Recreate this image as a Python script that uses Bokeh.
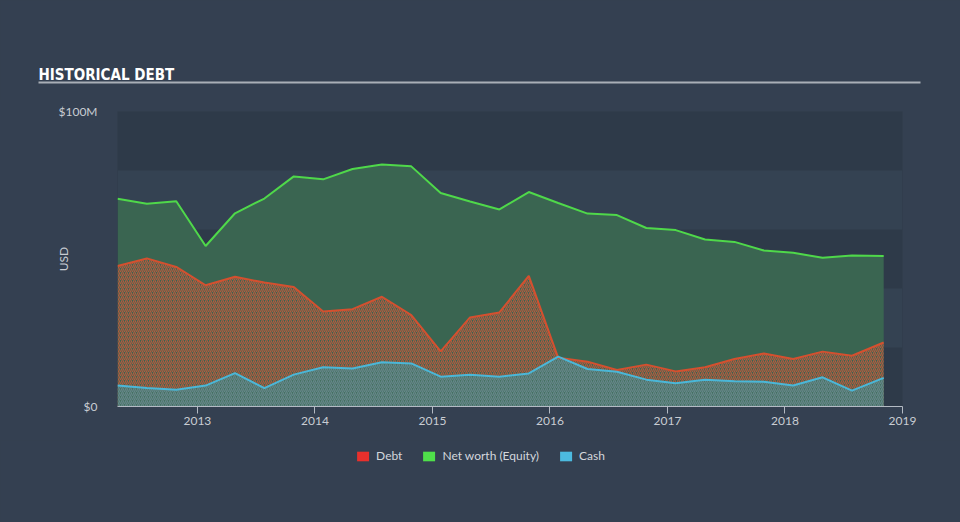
from bokeh.plotting import figure
from bokeh.layouts import column
from bokeh.models import (FixedTicker, PrintfTickFormatter, Legend, LegendItem, Range1d)
from bokeh.core.properties import value
from bokeh.embed import file_html
from bokeh.resources import INLINE

# ---- data (USD millions), quarterly, decimal years ----
dates = [2012.32, 2012.57, 2012.82, 2013.07, 2013.32, 2013.57, 2013.82,
         2014.07, 2014.32, 2014.57, 2014.82, 2015.07, 2015.32, 2015.57,
         2015.82, 2016.07, 2016.32, 2016.57, 2016.82, 2017.07, 2017.32,
         2017.57, 2017.82, 2018.07, 2018.32, 2018.57, 2018.84]
equity = [70.4, 68.7, 69.6, 54.4, 65.5, 70.5, 78.0, 77.0, 80.5, 82.0, 81.4,
          72.4, 69.5, 66.8, 72.7, 69.0, 65.4, 64.9, 60.5, 59.8, 56.6, 55.8,
          52.9, 52.1, 50.4, 51.2, 51.0]
debt = [47.6, 50.2, 47.3, 41.1, 44.0, 42.0, 40.5, 32.2, 33.0, 37.2, 31.0,
        18.7, 30.2, 31.9, 44.3, 16.5, 15.2, 12.4, 14.2, 11.9, 13.3, 16.1,
        18.0, 16.1, 18.6, 17.2, 21.7]
cash = [7.1, 6.3, 5.7, 7.1, 11.3, 6.2, 10.8, 13.3, 12.9, 15.0, 14.6, 10.1,
        10.8, 10.1, 11.2, 16.9, 12.7, 11.8, 9.1, 7.9, 9.1, 8.6, 8.4, 7.1,
        9.9, 5.4, 9.7]
x_ticks = [2013, 2014, 2015, 2016, 2017, 2018, 2019]
y_ticks = [0, 100]
y_tick_labels = {0: "$0", 100: "$100M"}
band_ticks = [0, 20, 40, 60, 80, 100]
series_names = ["Debt", "Net worth (Equity)", "Cash"]
title_text = "HISTORICAL DEBT"

PAGE = "#344051"
DARK_BAND = "#2e3a49"
LIGHT_BAND = "#344252"
TXT = "#c9cdd3"
FONT = "Lato"
W = 960


def bare(fig):
    fig.background_fill_color = PAGE
    fig.border_fill_color = None
    fig.outline_line_color = None
    fig.grid.visible = False
    fig.styles = {"background-color": PAGE}


# ---------------- header (title + rule) ----------------
head = figure(width=W, height=100, output_backend="svg", toolbar_location=None,
              x_range=Range1d(0, W), y_range=Range1d(100, 0),
              x_axis_location=None, y_axis_location=None,
              min_border=0, min_border_left=0, min_border_right=0,
              min_border_top=0, min_border_bottom=0)
bare(head)
head.text(x=[38], y=[74.5], text=[title_text], text_color="#ffffff",
          text_font=value("'DejaVu Sans Condensed', 'Liberation Sans Narrow', sans-serif"),
          text_font_style="bold", text_font_size="15px",
          text_baseline="alphabetic", text_align="left")
head.segment(x0=[38], y0=[82], x1=[920], y1=[82], line_color="#a9afb7", line_width=2)

# ---------------- main chart ----------------
p = figure(width=W, height=340, output_backend="svg", toolbar_location=None,
           x_range=Range1d(dates[0], x_ticks[-1]), y_range=Range1d(y_ticks[0], y_ticks[-1]),
           min_border_left=117, min_border_right=58, min_border_top=11,
           min_border_bottom=34)
p.background_fill_color = DARK_BAND
p.border_fill_color = None
p.outline_line_color = None
p.styles = {"background-color": PAGE}

p.xgrid.visible = False
p.ygrid.ticker = FixedTicker(ticks=band_ticks)
p.ygrid.grid_line_color = None
p.ygrid.band_fill_color = LIGHT_BAND
p.ygrid.band_fill_alpha = 1.0

p.varea(x=dates, y1=0, y2=equity, fill_color="#3a6551", fill_alpha=1.0)
p.varea(x=dates, y1=0, y2=debt, fill_alpha=0.0,
        hatch_pattern="/", hatch_color="#d2573a", hatch_alpha=0.8,
        hatch_scale=4, hatch_weight=1.2)
p.varea(x=dates, y1=0, y2=cash, fill_color="#4a7468", fill_alpha=0.75,
        hatch_pattern="/", hatch_color="#62a8c4", hatch_alpha=0.45,
        hatch_scale=4, hatch_weight=1.2)

p.line(dates, equity, line_color="#4fd84a", line_width=2)
p.line(dates, debt, line_color="#d4502f", line_width=2)
p.line(dates, cash, line_color="#4ab7d8", line_width=2)

xa = p.xaxis[0]
xa.ticker = FixedTicker(ticks=x_ticks)
xa.formatter = PrintfTickFormatter(format="%d")
xa.axis_line_color = "#b4bbc4"
xa.major_tick_line_color = "#b4bbc4"
xa.major_tick_in = 0
xa.major_tick_out = 7
xa.minor_tick_line_color = None
xa.major_label_standoff = 3
xa.major_label_text_color = TXT
xa.major_label_text_font = FONT
xa.major_label_text_font_size = "12px"

ya = p.yaxis[0]
ya.ticker = FixedTicker(ticks=y_ticks)
ya.major_label_overrides = y_tick_labels
ya.axis_line_color = None
ya.major_tick_line_color = None
ya.minor_tick_line_color = None
ya.major_label_standoff = 14
ya.major_label_text_color = TXT
ya.major_label_text_font = FONT
ya.major_label_text_font_size = "12px"
ya.axis_label = "USD"
ya.axis_label_text_color = TXT
ya.axis_label_text_font = FONT
ya.axis_label_text_font_style = "normal"
ya.axis_label_text_font_size = "12px"
ya.axis_label_standoff = -15

# ---------------- footer (legend) ----------------
foot = figure(width=W, height=82, output_backend="svg", toolbar_location=None,
              x_range=Range1d(dates[0], x_ticks[-1]), y_range=Range1d(0, 100),
              x_axis_location=None, y_axis_location=None,
              min_border=0, min_border_left=0, min_border_right=0,
              min_border_top=0, min_border_bottom=0)
bare(foot)
r_debt = foot.varea(x=dates, y1=0, y2=debt, fill_color="#e8302c", visible=False)
r_eq = foot.varea(x=dates, y1=0, y2=equity, fill_color="#4fe04a", visible=False)
r_cash = foot.varea(x=dates, y1=0, y2=cash, fill_color="#4cbadf", visible=False)
legend = Legend(items=[LegendItem(label=series_names[0], renderers=[r_debt]),
                       LegendItem(label=series_names[1], renderers=[r_eq]),
                       LegendItem(label=series_names[2], renderers=[r_cash])],
                orientation="horizontal", location="top_center")
legend.background_fill_alpha = 0
legend.border_line_alpha = 0
legend.inactive_fill_alpha = 0
legend.label_text_color = "#d3d7dc"
legend.label_text_font = FONT
legend.label_text_font_size = "12px"
legend.glyph_width = 15
legend.glyph_height = 12
legend.spacing = 19
legend.label_standoff = 6
legend.padding = 2
legend.margin = 6
foot.add_layout(legend)

hbox = column(head)
fbox = column(foot)
for b in (hbox, fbox):
    b.styles = {"background-color": PAGE}
layout = column(hbox, p, fbox, spacing=0)
layout.styles = {"background-color": PAGE}

open("out.html", "w").write(file_html(layout, INLINE))
